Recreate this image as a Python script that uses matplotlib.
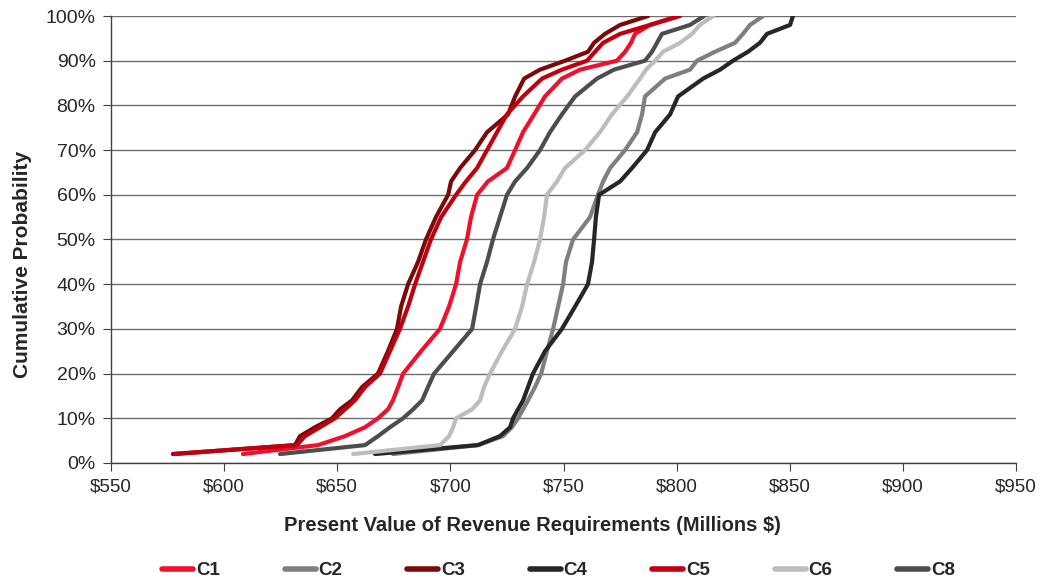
import numpy as np
import matplotlib
matplotlib.use("Agg")
import matplotlib.pyplot as plt
from matplotlib.ticker import FuncFormatter

plt.rcParams['font.family'] = ['Liberation Sans', 'DejaVu Sans']

# cumulative probability levels (%)
prob = [2, 4, 6, 8, 10, 12, 14, 17, 20, 25, 30, 35, 40, 45, 50, 55, 60, 63, 66,
        70, 74, 78, 82, 86, 88, 90, 92, 94, 96, 98, 100]

# present value of revenue requirements (millions $) at each level
c1 = [608.3, 641.5, 653.4, 662.3, 668.0, 672.4, 674.6, 676.9, 679.1, 687.0, 695.4,
      699.4, 702.5, 704.3, 707.3, 709.1, 711.8, 716.6, 725.0, 728.6, 732.1, 737.0,
      741.8, 749.3, 757.3, 773.6, 777.2, 779.8, 781.6, 788.2, 800.6]
c2 = [674.6, 712.2, 723.2, 727.2, 729.9, 732.1, 734.3, 737.4, 740.1, 742.7, 745.4,
      747.6, 749.8, 751.1, 754.2, 761.7, 765.2, 767.5, 770.6, 777.2, 782.5, 784.7,
      786.0, 794.9, 805.9, 809.0, 816.9, 825.8, 829.3, 832.4, 838.2]
c3 = [577.4, 631.3, 633.5, 640.2, 647.7, 651.2, 656.5, 661.0, 668.0, 672.4, 676.4,
      678.2, 681.3, 685.7, 689.2, 693.6, 699.0, 700.3, 704.3, 710.9, 716.2, 725.5,
      728.6, 732.6, 739.6, 750.7, 760.8, 763.5, 768.3, 775.0, 787.4]
c4 = [666.7, 712.2, 721.9, 726.4, 727.7, 729.9, 732.1, 734.3, 736.5, 741.8, 749.3,
      755.1, 760.8, 762.6, 763.5, 764.3, 765.7, 775.0, 780.3, 786.9, 790.5, 797.1,
      800.6, 811.7, 819.2, 824.9, 831.5, 836.8, 839.9, 850.1, 851.4]
c5 = [577.4, 632.2, 635.7, 642.4, 649.0, 653.4, 657.8, 662.3, 668.9, 673.3, 677.7,
      681.3, 684.4, 687.9, 691.4, 695.9, 702.5, 706.9, 711.8, 716.2, 720.6, 725.0,
      732.1, 740.5, 749.3, 760.4, 763.9, 767.5, 775.0, 788.2, 801.5]
c6 = [657.0, 695.4, 699.4, 701.2, 702.5, 709.6, 713.1, 714.9, 717.5, 722.8, 728.6,
      731.7, 733.9, 737.0, 739.6, 741.4, 742.7, 747.1, 750.7, 759.5, 766.1, 771.4,
      778.1, 783.8, 786.5, 790.5, 794.0, 801.5, 806.8, 810.3, 816.1]
c8 = [624.7, 662.3, 668.0, 673.3, 679.1, 683.5, 687.5, 690.1, 692.8, 701.2, 709.6,
      711.4, 713.1, 716.2, 718.8, 721.9, 725.0, 728.6, 733.9, 739.6, 744.0, 749.3,
      755.1, 764.8, 772.3, 786.0, 789.1, 791.3, 793.5, 805.9, 812.1]

names = ["C1", "C2", "C3", "C4", "C5", "C6", "C8"]
series = [c1, c2, c3, c4, c5, c6, c8]
colors = ["#F0102E", "#7F7F7F", "#7A0A0A", "#262626", "#C00010", "#BDBDBD", "#4D4D4D"]

fig = plt.figure(figsize=(10.5, 5.82), dpi=100)
ax = fig.add_axes([0.1057, 0.2045, 0.862, 0.768])

for name, vals, col in zip(names, series, colors):
    ax.plot(vals, np.array(prob) / 100.0, color=col, lw=3.0, label=name,
            solid_capstyle='round', solid_joinstyle='round')

ax.set_xlim(550, 950)
ax.set_ylim(0, 1)
ax.set_xticks(np.arange(550, 951, 50))
ax.set_yticks(np.arange(0, 1.01, 0.1))
ax.xaxis.set_major_formatter(FuncFormatter(lambda v, p: f"${v:.0f}"))
ax.yaxis.set_major_formatter(FuncFormatter(lambda v, p: f"{v*100:.0f}%"))
ax.yaxis.grid(True, color="#6e6e6e", lw=1.0)
ax.set_axisbelow(True)
for s in ["top", "right"]:
    ax.spines[s].set_visible(False)
for s in ["left", "bottom"]:
    ax.spines[s].set_color("#404040")
    ax.spines[s].set_linewidth(1.0)
ax.tick_params(axis='both', direction='out', length=6, color="#404040",
               labelcolor="#262626")
ax.tick_params(axis='y', pad=5, labelsize=14)
ax.tick_params(axis='x', pad=5, labelsize=13.5)

ax.set_xlabel("Present Value of Revenue Requirements (Millions $)", fontsize=14.5,
              fontweight='bold', color="#262626")
ax.xaxis.set_label_coords(0.466, -0.118)
ax.set_ylabel("Cumulative Probability", fontsize=15, fontweight='bold',
              color="#262626")
ax.yaxis.set_label_coords(-0.0873, 0.445)

leg = fig.legend(loc='lower center', bbox_to_anchor=(0.532, -0.024), ncol=7,
                 frameon=False, handlelength=1.65, handletextpad=0.15,
                 columnspacing=3.46, prop={'size': 13.5, 'weight': 'bold'})
for t in leg.get_texts():
    t.set_color("#262626")
for h in leg.get_lines():
    h.set_linewidth(4)

fig.savefig("out.png", dpi=100)
